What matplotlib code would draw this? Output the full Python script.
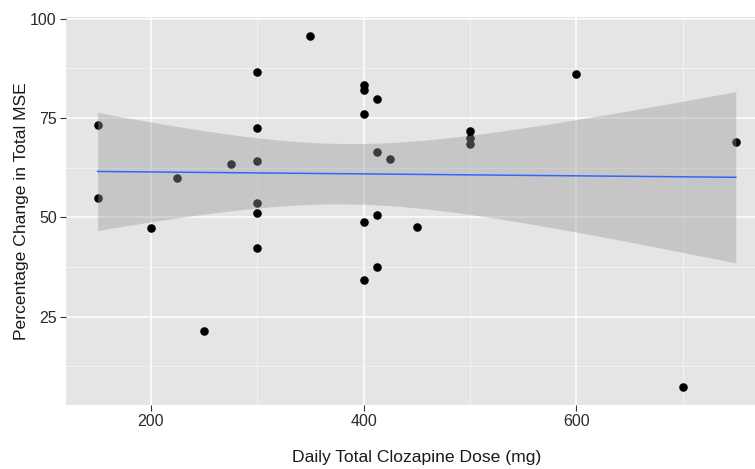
import matplotlib
matplotlib.use("Agg")
import matplotlib.pyplot as plt
import numpy as np

plt.rcParams['font.family'] = ['Liberation Sans', 'DejaVu Sans']

# dose (mg) and percentage change
dose = [150, 150, 200, 225, 250, 275,
        300, 300, 300, 300, 300, 300,
        350, 400, 400, 400, 400, 400,
        412.5, 412.5, 412.5, 412.5, 425, 450,
        500, 500, 500, 600, 700, 750]
change = [73.2, 54.8, 47.4, 59.8, 21.5, 63.4,
          86.5, 72.6, 64.3, 53.5, 51.0, 42.3,
          95.7, 83.4, 82.1, 75.9, 48.8, 34.3,
          79.9, 66.5, 50.6, 37.6, 64.8, 47.5,
          71.8, 69.9, 68.4, 86.0, 7.3, 69.0]
x_ticks = [200, 400, 600]
y_ticks = [25, 50, 75, 100]

x = np.array(dose, dtype=float)
y = np.array(change, dtype=float)

# linear fit with 95% confidence band, like geom_smooth(method = "lm")
n = len(x)
b, a = np.polyfit(x, y, 1)
xs = np.linspace(x.min(), x.max(), 80)
fit = a + b * xs
resid = y - (a + b * x)
s = np.sqrt(np.sum(resid ** 2) / (n - 2))
sxx = np.sum((x - x.mean()) ** 2)
se = s * np.sqrt(1 / n + (xs - x.mean()) ** 2 / sxx)
tval = 2.048  # t(0.975, 28)
lo, hi = fit - tval * se, fit + tval * se

fig = plt.figure(figsize=(7.55, 4.69), dpi=100)
ax = fig.add_axes([0.087, 0.1365, 0.9298, 0.827])
ax.set_facecolor('#E5E5E5')

ax.scatter(x, y, s=38, color='black', zorder=3, linewidths=0)
ax.fill_between(xs, lo, hi, color='#999999', alpha=0.4, linewidth=0, zorder=4)
ax.plot(xs, fit, color='#3366FF', linewidth=1.1, zorder=5)

ax.set_xlim(120, 780)
ax.set_ylim(2.8, 100.4)
ax.set_xticks(x_ticks)
ax.set_yticks(y_ticks)
ax.set_xticks([300, 500, 700], minor=True)
ax.set_yticks([12.5, 37.5, 62.5, 87.5], minor=True)
ax.grid(True, which='major', color='white', linewidth=1.1, zorder=0)
ax.grid(True, which='minor', color='#F5F5F5', linewidth=0.6, zorder=0)
ax.set_axisbelow(True)
for sp in ax.spines.values():
    sp.set_visible(False)
ax.tick_params(which='major', length=4, width=0.8, color='#333333',
               labelcolor='#2b2b2b', labelsize=11.5, pad=2.5)
ax.tick_params(which='minor', length=0)

ax.set_xlabel('Daily Total Clozapine Dose (mg)', fontsize=12.6, color='#1a1a1a', labelpad=15)
ax.set_ylabel('Percentage Change in Total MSE', fontsize=12.6, color='#1a1a1a', labelpad=1)

fig.savefig('out.png', dpi=100)
